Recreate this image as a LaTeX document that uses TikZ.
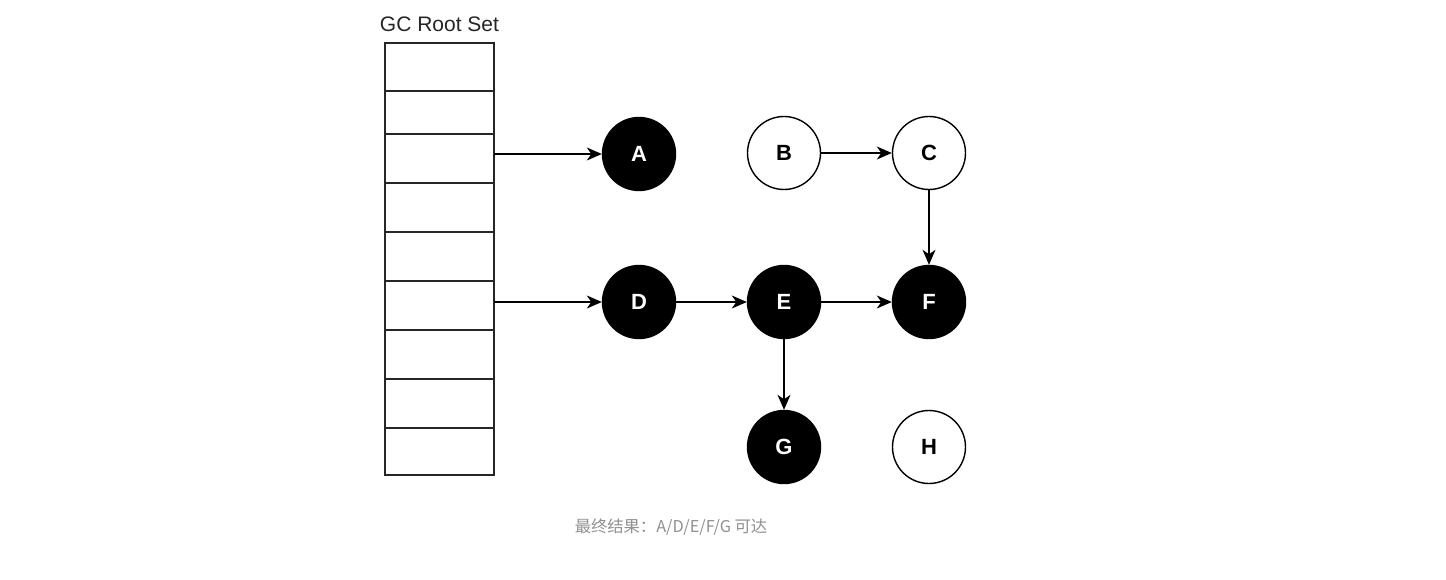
\documentclass[tikz,border=0pt]{standalone}
\usepackage{fontspec}
\setmainfont{Liberation Sans}
\newfontfamily\cjk{Noto Sans CJK SC}
\usetikzlibrary{arrows.meta}
\definecolor{capgray}{HTML}{919191}
\begin{document}
\begin{tikzpicture}[x=1pt,y=-1pt,
  cell/.style={draw=black!85,line width=1.6pt},
  obj/.style={circle,draw=black,line width=1.4pt,minimum size=73pt,inner sep=0pt,font=\fontsize{22}{26}\selectfont\bfseries},
  live/.style={obj,fill=black,text=white},
  dead/.style={obj,fill=white,text=black},
  ref/.style={line width=1.4pt,-{Stealth[length=15pt,width=13pt,inset=4.5pt]}}]
\useasboundingbox (0,0) rectangle (1446,580);
\fill[white] (0,0) rectangle (1446,580);
% stack
\foreach \a/\b [count=\i] in {43/91,91/134,134/183,183/232,232/281,281/330,330/379,379/428,428/475}
  \draw[cell] (385,\a) rectangle (494,\b);
\coordinate (r3) at (494,154);
\coordinate (r6) at (494,302);
\node[font=\fontsize{21}{24}\selectfont,text=black!85,anchor=base] (title) at (439.5,32) {GC Root Set};
% objects
\node[live] (A) at (639,154) {A};
\node[dead] (B) at (784,153) {B};
\node[dead] (C) at (929,153) {C};
\node[live] (D) at (639,302) {D};
\node[live] (E) at (784,302) {E};
\node[live] (F) at (929,302) {F};
\node[live] (G) at (784,447) {G};
\node[dead] (H) at (929,447) {H};
% references
\draw[ref] (r3) -- (A);
\draw[ref] (r6) -- (D);
\draw[ref] (B) -- (C);
\draw[ref] (C) -- (F);
\draw[ref] (D) -- (E);
\draw[ref] (E) -- (F);
\draw[ref] (E) -- (G);
% caption
\node[font=\cjk\fontsize{16.3}{19}\selectfont,text=capgray] (cap) at (671,527) {最终结果：A/D/E/F/G 可达};
\end{tikzpicture}
\end{document}
